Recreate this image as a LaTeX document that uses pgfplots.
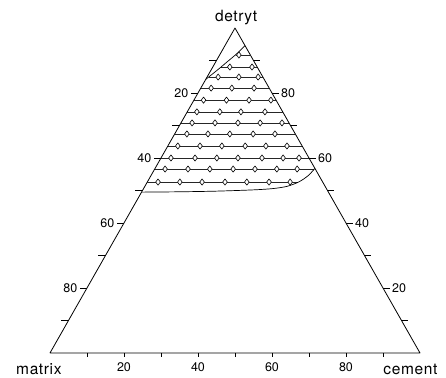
\documentclass[border=0pt]{standalone}
\usepackage{fontspec}
\setmainfont{TeX Gyre Heros}
\newfontfamily\labfont[LetterSpace=4]{TeX Gyre Heros}
\usepackage{pgfplots}
\pgfplotsset{compat=1.18}
\usepackage{pgfplotstable}

% ternary compositions: c = cement %, d = detryt % (matrix = 100 - c - d)
\pgfplotstableread{
c d
5.2 91.7
4.6 88.0
10.6 88.0
3.0 84.9
8.6 84.9
13.8 84.9
2.8 81.5
8.4 81.5
14.4 81.5
2.6 77.8
8.8 77.8
14.9 77.8
20.8 77.8
2.6 74.2
8.8 74.2
14.5 74.2
21.0 74.2
3.0 70.8
9.2 70.8
15.4 70.8
21.4 70.8
27.3 70.8
3.3 67.4
9.0 67.4
14.9 67.4
21.2 67.4
27.1 67.4
2.7 63.7
8.7 63.7
14.6 63.7
20.9 63.7
26.5 63.7
32.2 63.7
2.7 60.0
9.2 60.0
15.1 60.0
20.8 60.0
27.3 60.0
33.0 60.0
37.3 60.0
2.8 56.6
9.0 56.6
14.9 56.6
21.2 56.6
27.1 56.6
33.0 56.6
38.5 56.6
2.9 52.6
8.8 52.6
14.8 52.6
21.0 52.6
26.9 52.6
32.9 52.6
38.6 52.6
}\pts

\pgfplotsset{/pgfplots/table/tern/.style={x expr=\thisrow{c}+0.5*\thisrow{d}, y expr=0.8784*\thisrow{d}}}

\begin{document}
\begin{tikzpicture}[num/.style={font=\fontsize{12.5}{14}\selectfont, inner sep=0pt},
  lab/.style={font=\labfont\fontsize{15.5}{18}\selectfont, inner sep=0pt}]
\begin{axis}[scale only axis, width=446pt, height=377pt,
  xmin=-13.51, xmax=107.03, ymin=-6.49, ymax=95.41,
  axis lines=none, clip=false]
\path (rel axis cs:0,0) rectangle (rel axis cs:1,1);
% triangle
\addplot[black, line width=0.8pt, line join=round] table[tern] {
c d
0 0
100 0
0 100
0 0
};
% horizontal tie lines
\addplot[black!85, line width=0.6pt, empty line=jump] table[tern] {
c d
4.35 91.7
8.3 91.7

2.2 88.0
12.0 88.0

0.5 84.9
15.1 84.9

0 81.5
18.5 81.5

0 77.8
22.2 77.8

0 74.2
25.8 74.2

0 70.8
29.2 70.8

0 67.4
32.6 67.4

0 63.7
36.3 63.7

0 60.0
40.0 60.0

0 56.6
43.1 56.6

0 52.6
40.8 52.6
};
% upper boundary
\addplot[black, line width=0.7pt, smooth] table[tern] {
c d
5.4 94.6
4.4 92.0
3.2 89.8
1.9 87.4
0.6 85.2
0 84.2
};
% lower boundary
\addplot[black, line width=0.7pt, smooth] table[tern] {
c d
0 49.5
10 49.6
20 49.8
30 50.2
35 50.6
38.5 51.3
41 52.7
42.5 54.6
43.2 56.8
};
% sample points
\addplot[only marks, mark=diamond*, mark size=3.1pt,
  mark options={fill=white, draw=black, line width=0.6pt, line join=round}] table[tern] {\pts};

% ticks
\pgfplotsinvokeforeach{10,20,30,40,50,60,70,80,90}{
  \draw[line width=0.6pt] (axis cs:#1,0) -- ++(0pt,-4pt);
}
\draw[line width=0.6pt] (axis cs:5,8.784) -- ++(-7pt,0pt);
\draw[line width=0.6pt] (axis cs:10,17.568) -- ++(-7pt,0pt);
\draw[line width=0.6pt] (axis cs:15,26.352) -- ++(-7pt,0pt);
\draw[line width=0.6pt] (axis cs:20,35.136) -- ++(-7pt,0pt);
\draw[line width=0.6pt] (axis cs:25,43.92) -- ++(-7pt,0pt);
\draw[line width=0.6pt] (axis cs:30,52.704) -- ++(-7pt,0pt);
\draw[line width=0.6pt] (axis cs:35,61.488) -- ++(-7pt,0pt);
\draw[line width=0.6pt] (axis cs:40,70.272) -- ++(-7pt,0pt);
\draw[line width=0.6pt] (axis cs:45,79.056) -- ++(-7pt,0pt);
\draw[line width=0.6pt] (axis cs:95,8.784) -- ++(7pt,0pt);
\draw[line width=0.6pt] (axis cs:90,17.568) -- ++(7pt,0pt);
\draw[line width=0.6pt] (axis cs:85,26.352) -- ++(7pt,0pt);
\draw[line width=0.6pt] (axis cs:80,35.136) -- ++(7pt,0pt);
\draw[line width=0.6pt] (axis cs:75,43.92) -- ++(7pt,0pt);
\draw[line width=0.6pt] (axis cs:70,52.704) -- ++(7pt,0pt);
\draw[line width=0.6pt] (axis cs:65,61.488) -- ++(7pt,0pt);
\draw[line width=0.6pt] (axis cs:60,70.272) -- ++(7pt,0pt);
\draw[line width=0.6pt] (axis cs:55,79.056) -- ++(7pt,0pt);

% tick labels
\node[num] at (axis cs:20,-3.8) {20};
\node[num] at (axis cs:40,-3.8) {40};
\node[num] at (axis cs:60,-3.8) {60};
\node[num] at (axis cs:80,-3.8) {80};
\node[num, anchor=east, xshift=-9.5pt] at (axis cs:40,70.272) {20};
\node[num, anchor=east, xshift=-9.5pt] at (axis cs:30,52.704) {40};
\node[num, anchor=east, xshift=-9.5pt] at (axis cs:20,35.136) {60};
\node[num, anchor=east, xshift=-9.5pt] at (axis cs:10,17.568) {80};
\node[num, anchor=west, xshift=9pt] at (axis cs:60,70.272) {80};
\node[num, anchor=west, xshift=9pt] at (axis cs:70,52.704) {60};
\node[num, anchor=west, xshift=9pt] at (axis cs:80,35.136) {40};
\node[num, anchor=west, xshift=9pt] at (axis cs:90,17.568) {20};

% vertex labels
\node[lab] at (axis cs:50.3,90.8) {detryt};
\node[lab, anchor=base] at (axis cs:-3.0,-5.7) {matrix};
\node[lab, anchor=base] at (axis cs:97.4,-5.7) {cement};
\end{axis}
\end{tikzpicture}
\end{document}
